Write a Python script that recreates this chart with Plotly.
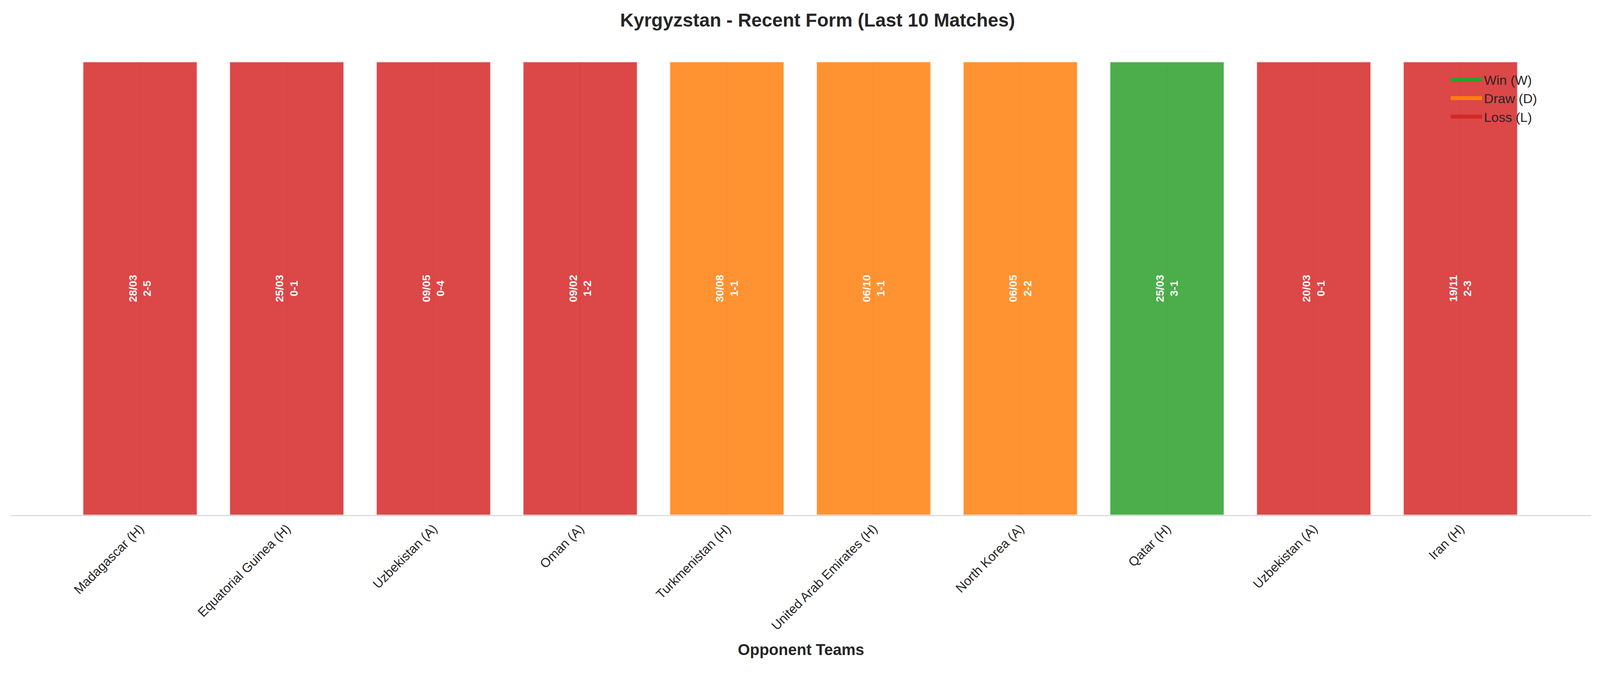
import plotly.graph_objects as go

OPPONENTS = ["Madagascar (H)", "Equatorial Guinea (H)", "Uzbekistan (A)", "Oman (A)",
             "Turkmenistan (H)", "United Arab Emirates (H)", "North Korea (A)", "Qatar (H)",
             "Uzbekistan (A)", "Iran (H)"]
DATES = ["28/03", "25/03", "09/05", "09/02", "30/08", "06/10", "06/05", "25/03", "20/03", "19/11"]
SCORES = ["2-5", "0-1", "0-4", "1-2", "1-1", "1-1", "2-2", "3-1", "0-1", "2-3"]
RESULTS = ["L", "L", "L", "L", "D", "D", "D", "W", "L", "L"]

COLORS = {"W": "#2ca02c", "D": "#ff7f0e", "L": "#d62728"}
NAMES = {"W": "Win (W)", "D": "Draw (D)", "L": "Loss (L)"}
FONT = "Liberation Sans, Arial, sans-serif"

fig = go.Figure()
fig.add_trace(go.Bar(
    x=list(range(len(OPPONENTS))), y=[1] * len(OPPONENTS), width=0.78,
    marker=dict(color=[COLORS[r] for r in RESULTS], opacity=0.85,
                line=dict(color="rgba(255,255,255,0.8)", width=3)),
    text=[f"{d}<br>{s}" for d, s in zip(DATES, SCORES)],
    textposition="inside", insidetextanchor="middle", textangle=-90,
    textfont=dict(color="white", size=28, family=FONT, weight="bold"),
    showlegend=False, hoverinfo="skip"))

# legend-only entries (thick lines give wide rectangular swatches)
for r in ["W", "D", "L"]:
    fig.add_trace(go.Scatter(x=[None], y=[None], name=NAMES[r], mode="lines",
                             line=dict(color=COLORS[r], width=28)))

fig.update_layout(
    width=4170, height=1769, template="plotly_white",
    paper_bgcolor="white", plot_bgcolor="white",
    font=dict(family=FONT, color="#262626"),
    title=dict(text="<b>Kyrgyzstan - Recent Form (Last 10 Matches)</b>",
               x=0.5, xanchor="center", y=0.985, yanchor="top",
               font=dict(size=48, color="#262626")),
    margin=dict(l=20, r=105, t=150, b=458),
    legend=dict(x=0.91, y=0.985, xanchor="left", yanchor="top",
                font=dict(size=34, color="#262626"), bgcolor="rgba(0,0,0,0)",
                itemwidth=80, tracegroupgap=4),
)
fig.update_xaxes(
    tickmode="array", tickvals=list(range(len(OPPONENTS))), ticktext=OPPONENTS,
    tickangle=-45, tickfont=dict(size=33, color="#262626"),
    range=[-0.88, 9.89], showgrid=True, gridcolor="#e0e0e0", gridwidth=2,
    showline=True, linecolor="#cccccc", linewidth=2, ticks="",
    title=dict(text="<b>Opponent Teams</b>", font=dict(size=40, color="#262626"), standoff=30),
)
fig.update_yaxes(range=[0, 1.0], visible=False, showgrid=False)

fig.write_html("out.html")
